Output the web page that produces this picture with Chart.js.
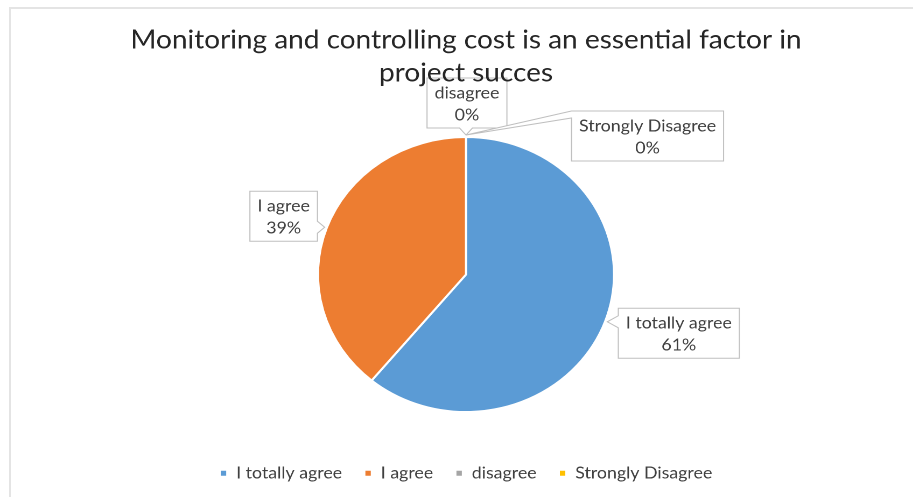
<!DOCTYPE html>
<html>
<head>
<meta charset="utf-8">
<script src="https://cdn.jsdelivr.net/npm/chart.js@4.4.1/dist/chart.umd.min.js"></script>
<style>
  html, body { margin: 0; padding: 0; background: #fff; overflow: hidden; }
  #frame { position: absolute; left: 9px; top: 7px; width: 904px; height: 490px;
           border-top: 2px solid #e4e4e4; border-left: 2px solid #e4e4e4; }
  /* the reference is a bit wider than tall, so the whole chart is stretched in x */
  #wrap { position: absolute; left: 0; top: 0; width: 848px; height: 497px;
          transform: scaleX(1.0767); transform-origin: 0 0; }
</style>
</head>
<body>
<div id="frame"></div>
<div id="wrap"><canvas id="pieChart"></canvas></div>
<script>
// data
const categories = ['I totally agree', 'I agree', 'disagree', 'Strongly Disagree'];
const percentValues = [61, 39, 0, 0];
const sliceColors = ['#5B9BD5', '#ED7D31', '#A5A5A5', '#FFC000'];
const titleLines = ['Monitoring and controlling cost is an essential factor in', 'project succes'];

// callout box placement, relative to the point on the slice edge
const calloutOffsets = [
    { dx: 66.4, dy: 11.5, side: 'left' },
    { dx: -38.1, dy: -11, side: 'right' },
    { dx: 0.9, dy: -32, side: 'bottom' },
    { dx: 168.6, dy: 1, side: 'left', corner: true }
];

const textColor = '#404040';
const fontName = 'Lato, "Open Sans", sans-serif';

function boxPath(ctx, l, t, w, h, side, b1, b2, tip) {
    const r = l + w, btm = t + h;
    ctx.beginPath();
    ctx.moveTo(l, t);
    ctx.lineTo(r, t);
    if (side === 'right') { ctx.lineTo(r, b1); ctx.lineTo(tip.x, tip.y); ctx.lineTo(r, b2); }
    ctx.lineTo(r, btm);
    if (side === 'bottom') { ctx.lineTo(b2, btm); ctx.lineTo(tip.x, tip.y); ctx.lineTo(b1, btm); }
    ctx.lineTo(l, btm);
    if (side === 'left') { ctx.lineTo(l, b2); ctx.lineTo(tip.x, tip.y); ctx.lineTo(l, b1); }
    ctx.closePath();
}

// drawn before the title so the title text sits on top of the 'disagree' box
const calloutPlugin = {
    id: 'callouts',
    beforeDraw(chart) {
        const ctx = chart.ctx;
        const meta = chart.getDatasetMeta(0);
        const padX = 7, padY = 3, lineH = 22, half = 6;
        ctx.save();
        ctx.font = '16.5px ' + fontName;
        meta.data.forEach((arc, i) => {
            const p = arc.getProps(['x', 'y', 'startAngle', 'endAngle', 'outerRadius'], true);
            const mid = (p.startAngle + p.endAngle) / 2;
            const ax = p.x + Math.cos(mid) * (p.outerRadius + 2);
            const ay = p.y + Math.sin(mid) * (p.outerRadius + 2);
            const o = calloutOffsets[i];
            const lines = [categories[i], percentValues[i] + '%'];
            const w = Math.max(...lines.map(t => ctx.measureText(t).width)) + padX * 2;
            const h = lines.length * lineH + padY * 2;
            const cx = ax + o.dx, cy = ay + o.dy;
            const l = cx - w / 2, t = cy - h / 2;
            let b1, b2;
            if (o.side === 'bottom') {
                const c = Math.min(Math.max(ax, l + half), l + w - half);
                b1 = c - half; b2 = c + half;
            } else if (o.corner) {
                b1 = t; b2 = t + 7;
            } else {
                const c = Math.min(Math.max(ay, t + half), t + h - half);
                b1 = c - half; b2 = c + half;
            }
            boxPath(ctx, l, t, w, h, o.side, b1, b2, { x: ax, y: ay });
            ctx.fillStyle = '#fff';
            ctx.fill();
            ctx.strokeStyle = '#bfbfbf';
            ctx.lineWidth = 1;
            ctx.stroke();
            ctx.fillStyle = textColor;
            ctx.textAlign = 'center';
            ctx.textBaseline = 'middle';
            lines.forEach((txt, k) => {
                ctx.fillText(txt, cx, t + padY + lineH / 2 + k * lineH + 1);
            });
        });
        ctx.restore();
    }
};

const pieCanvas = document.getElementById('pieChart').getContext('2d');

let pieChart = new Chart(pieCanvas, {
    type: 'pie',
    data: {
        labels: categories,
        datasets: [{
            data: percentValues,
            backgroundColor: sliceColors,
            borderColor: '#ffffff',
            borderWidth: 2
        }]
    },
    options: {
        responsive: true,
        maintainAspectRatio: false,
        animation: false,
        devicePixelRatio: 2,
        radius: 137.5,
        layout: {
            padding: { top: 0, bottom: 5.5, left: 17.6, right: 0 }
        },
        plugins: {
            title: {
                display: true,
                text: titleLines,
                color: '#262626',
                font: { family: fontName, size: 26, weight: 'normal', lineHeight: 1.27 },
                padding: { top: 23.5, bottom: 15.1 }
            },
            legend: {
                position: 'bottom',
                labels: {
                    color: textColor,
                    font: { family: fontName, size: 16.5 },
                    usePointStyle: true,
                    pointStyle: 'rect',
                    boxWidth: 7,
                    boxHeight: 7,
                    padding: 20.6
                }
            },
            tooltip: { enabled: false }
        }
    },
    plugins: [calloutPlugin]
});
</script>
</body>
</html>
